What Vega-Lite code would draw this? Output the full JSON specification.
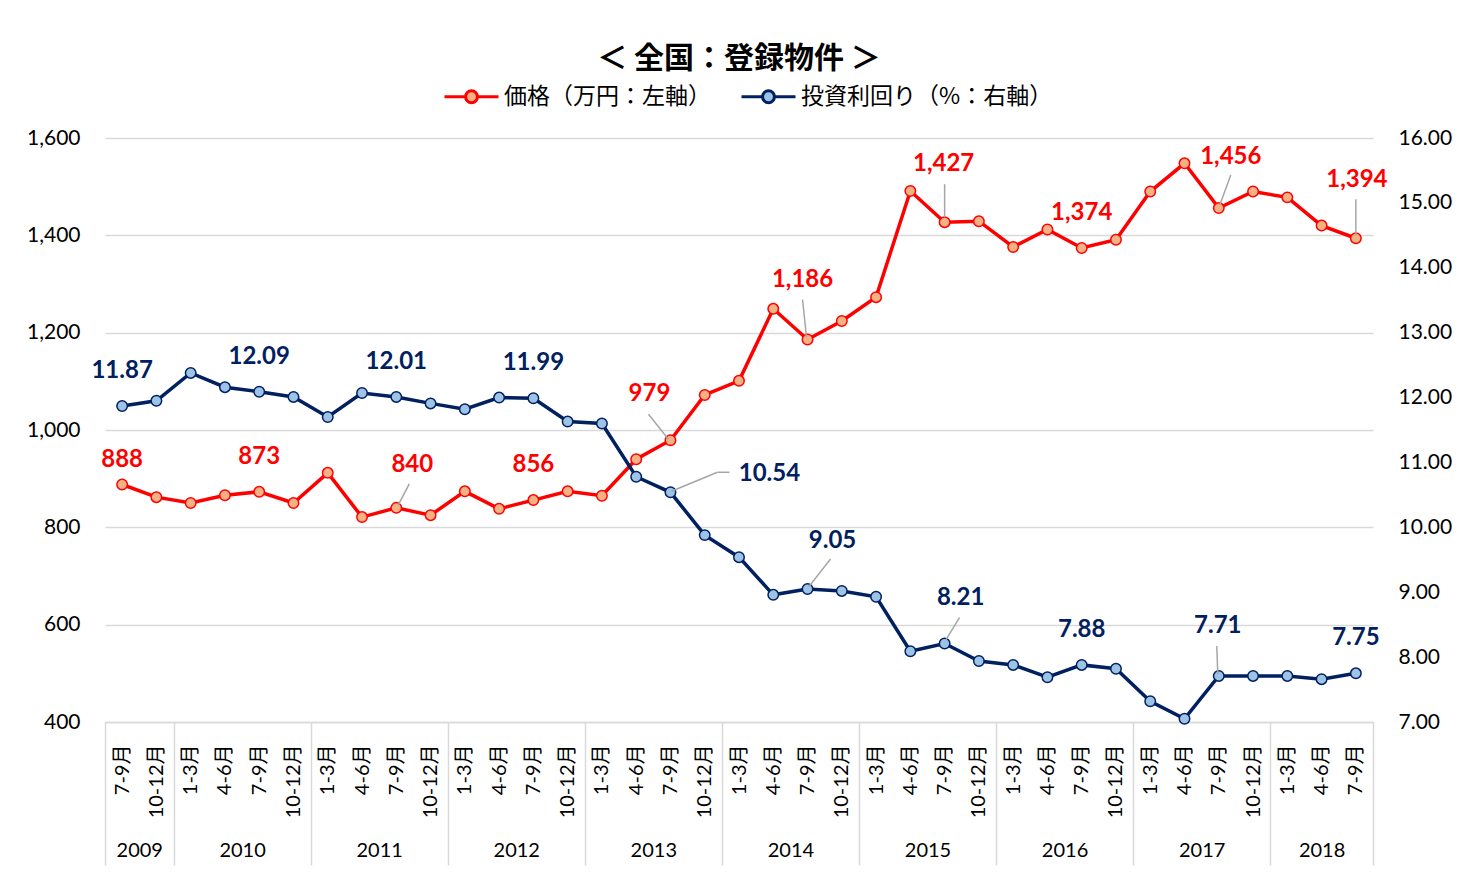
{
  "$schema": "https://vega.github.io/schema/vega-lite/v6.json",
  "width": 1268,
  "height": 584,
  "autosize": {"type": "none"},
  "padding": {"left": 105, "top": 138, "right": 106, "bottom": 152},
  "background": "#ffffff",
  "title": {
    "text": "＜ 全国：登録物件 ＞",
    "font": "Noto Sans CJK JP",
    "fontSize": 30,
    "fontWeight": "bold",
    "color": "#000000",
    "anchor": "middle",
    "offset": -6
  },
  "config": {
    "view": {"stroke": null},
    "axis": {"labelFont": "Lato, Noto Sans CJK JP", "labelColor": "#000000"}
  },
  "data": {
    "values": [
      {"q": "2009Q3", "price": 888, "yield": 11.87},
      {"q": "2009Q4", "price": 862, "yield": 11.95},
      {"q": "2010Q1", "price": 850, "yield": 12.38},
      {"q": "2010Q2", "price": 866, "yield": 12.16},
      {"q": "2010Q3", "price": 873, "yield": 12.09},
      {"q": "2010Q4", "price": 850, "yield": 12.01},
      {"q": "2011Q1", "price": 912, "yield": 11.70},
      {"q": "2011Q2", "price": 821, "yield": 12.07},
      {"q": "2011Q3", "price": 840, "yield": 12.01},
      {"q": "2011Q4", "price": 825, "yield": 11.91},
      {"q": "2012Q1", "price": 874, "yield": 11.82},
      {"q": "2012Q2", "price": 838, "yield": 12.00},
      {"q": "2012Q3", "price": 856, "yield": 11.99},
      {"q": "2012Q4", "price": 874, "yield": 11.63},
      {"q": "2013Q1", "price": 865, "yield": 11.60},
      {"q": "2013Q2", "price": 940, "yield": 10.78},
      {"q": "2013Q3", "price": 979, "yield": 10.54},
      {"q": "2013Q4", "price": 1072, "yield": 9.88},
      {"q": "2014Q1", "price": 1101, "yield": 9.54},
      {"q": "2014Q2", "price": 1249, "yield": 8.96},
      {"q": "2014Q3", "price": 1186, "yield": 9.05},
      {"q": "2014Q4", "price": 1224, "yield": 9.02},
      {"q": "2015Q1", "price": 1273, "yield": 8.93},
      {"q": "2015Q2", "price": 1491, "yield": 8.09},
      {"q": "2015Q3", "price": 1427, "yield": 8.21},
      {"q": "2015Q4", "price": 1429, "yield": 7.94},
      {"q": "2016Q1", "price": 1376, "yield": 7.88},
      {"q": "2016Q2", "price": 1412, "yield": 7.69},
      {"q": "2016Q3", "price": 1374, "yield": 7.88},
      {"q": "2016Q4", "price": 1391, "yield": 7.82},
      {"q": "2017Q1", "price": 1490, "yield": 7.32},
      {"q": "2017Q2", "price": 1548, "yield": 7.05},
      {"q": "2017Q3", "price": 1456, "yield": 7.71},
      {"q": "2017Q4", "price": 1490, "yield": 7.71},
      {"q": "2018Q1", "price": 1478, "yield": 7.71},
      {"q": "2018Q2", "price": 1420, "yield": 7.66},
      {"q": "2018Q3", "price": 1394, "yield": 7.75}
    ]
  },
  "layer": [
    {
      "encoding": {
        "x": {
          "field": "q", "type": "ordinal",
          "scale": {"type": "point", "padding": 0.5},
          "axis": {
            "title": null, "orient": "bottom",
            "labelExpr": "slice(datum.value,-1)=='1'?'1-3月':slice(datum.value,-1)=='2'?'4-6月':slice(datum.value,-1)=='3'?'7-9月':'10-12月'",
            "labelAngle": -90, "labelFontSize": 20, "labelPadding": 22,
            "ticks": false, "tickSize": 0, "grid": false,
            "domain": true, "domainColor": "#d9d9d9", "domainWidth": 1.5
          }
        },
        "y": {
          "field": "price", "type": "quantitative",
          "scale": {"domain": [400, 1600], "nice": false, "zero": false},
          "axis": {
            "title": null, "orient": "left",
            "values": [400, 600, 800, 1000, 1200, 1400, 1600],
            "format": ",.0f", "labelFontSize": 21, "labelPadding": 25,
            "domain": false, "ticks": false, "tickSize": 0,
            "grid": true, "gridColor": "#d9d9d9", "gridWidth": 1.5
          }
        }
      },
      "layer": [
        {
          "mark": {"type": "line", "strokeWidth": 3.5, "color": "#ff0000"}
        },
        {
          "mark": {"type": "circle", "size": 110, "strokeWidth": 1.5, "opacity": 1},
          "encoding": {
            "stroke": {"datum": "価格（万円：左軸）", "type": "nominal", "title": null,
              "scale": {"domain": ["価格（万円：左軸）", "投資利回り（%：右軸）"], "range": ["#ff0000", "#002060"]},
              "legend": {"orient": "none", "legendX": 338, "legendY": -70, "direction": "horizontal",
                "symbolType": "M-1,0L-0.22,0M0.22,0L1,0M0.22,0A0.22,0.22,0,1,1,-0.22,0A0.22,0.22,0,1,1,0.22,0",
                "symbolSize": 2916, "symbolStrokeWidth": 3, "symbolOpacity": 1,
                "labelFont": "Noto Sans CJK JP", "labelFontSize": 23, "labelColor": "#000000",
                "labelLimit": 0, "labelOffset": 4, "columnPadding": 24}},
            "fill": {"datum": "価格（万円：左軸）", "type": "nominal", "title": null,
              "scale": {"domain": ["価格（万円：左軸）", "投資利回り（%：右軸）"], "range": ["#f4b183", "#9dc3e6"]},
              "legend": {"orient": "none", "legendX": 338, "legendY": -70, "direction": "horizontal",
                "symbolType": "M-1,0L-0.22,0M0.22,0L1,0M0.22,0A0.22,0.22,0,1,1,-0.22,0A0.22,0.22,0,1,1,0.22,0",
                "symbolSize": 2916, "symbolStrokeWidth": 3, "symbolOpacity": 1,
                "labelFont": "Noto Sans CJK JP", "labelFontSize": 23, "labelColor": "#000000",
                "labelLimit": 0, "labelOffset": 4, "columnPadding": 24}}
          }
        },
        {
          "transform": [{"filter": {"field": "q", "oneOf": ["2010Q3", "2012Q3", "2016Q3"]}}],
          "mark": {"type": "text", "font": "Lato", "fontSize": 24, "fontWeight": "bold", "color": "#ff0000", "baseline": "middle", "dy": -35},
          "encoding": {"text": {"field": "price", "type": "quantitative", "format": ","}}
        },
        {
          "transform": [{"filter": {"field": "q", "equal": "2009Q3"}}],
          "mark": {"type": "text", "font": "Lato", "fontSize": 24, "fontWeight": "bold", "color": "#ff0000", "baseline": "middle", "dy": -25},
          "encoding": {"text": {"field": "price", "type": "quantitative", "format": ","}}
        },
        {
          "transform": [{"filter": {"field": "q", "equal": "2011Q3"}}],
          "layer": [
            {"mark": {"type": "rule", "color": "#a6a6a6", "strokeWidth": 1.5, "xOffset": 2, "yOffset": -3, "x2Offset": 13, "y2Offset": -24},
             "encoding": {"x2": {"field": "q"}, "y2": {"field": "price"}}},
            {"mark": {"type": "text", "font": "Lato", "fontSize": 24, "fontWeight": "bold", "color": "#ff0000", "baseline": "middle", "dx": 16, "dy": -43},
             "encoding": {"text": {"field": "price", "type": "quantitative", "format": ","}}}
          ]
        },
        {
          "transform": [{"filter": {"field": "q", "equal": "2013Q3"}}],
          "layer": [
            {"mark": {"type": "rule", "color": "#a6a6a6", "strokeWidth": 1.5, "xOffset": -2, "yOffset": -1, "x2Offset": -22, "y2Offset": -26},
             "encoding": {"x2": {"field": "q"}, "y2": {"field": "price"}}},
            {"mark": {"type": "text", "font": "Lato", "fontSize": 24, "fontWeight": "bold", "color": "#ff0000", "baseline": "middle", "dx": -21, "dy": -46},
             "encoding": {"text": {"field": "price", "type": "quantitative", "format": ","}}}
          ]
        },
        {
          "transform": [{"filter": {"field": "q", "equal": "2014Q3"}}],
          "layer": [
            {"mark": {"type": "rule", "color": "#a6a6a6", "strokeWidth": 1.5, "xOffset": -1, "yOffset": -2, "x2Offset": -5, "y2Offset": -40},
             "encoding": {"x2": {"field": "q"}, "y2": {"field": "price"}}},
            {"mark": {"type": "text", "font": "Lato", "fontSize": 24, "fontWeight": "bold", "color": "#ff0000", "baseline": "middle", "dx": -5, "dy": -59},
             "encoding": {"text": {"field": "price", "type": "quantitative", "format": ","}}}
          ]
        },
        {
          "transform": [{"filter": {"field": "q", "equal": "2015Q3"}}],
          "layer": [
            {"mark": {"type": "rule", "color": "#a6a6a6", "strokeWidth": 1.5, "xOffset": 0, "yOffset": -5, "x2Offset": 0, "y2Offset": -38},
             "encoding": {"x2": {"field": "q"}, "y2": {"field": "price"}}},
            {"mark": {"type": "text", "font": "Lato", "fontSize": 24, "fontWeight": "bold", "color": "#ff0000", "baseline": "middle", "dx": -1, "dy": -58},
             "encoding": {"text": {"field": "price", "type": "quantitative", "format": ","}}}
          ]
        },
        {
          "transform": [{"filter": {"field": "q", "equal": "2017Q3"}}],
          "layer": [
            {"mark": {"type": "rule", "color": "#a6a6a6", "strokeWidth": 1.5, "xOffset": 1, "yOffset": -3, "x2Offset": 12, "y2Offset": -33},
             "encoding": {"x2": {"field": "q"}, "y2": {"field": "price"}}},
            {"mark": {"type": "text", "font": "Lato", "fontSize": 24, "fontWeight": "bold", "color": "#ff0000", "baseline": "middle", "dx": 12, "dy": -51},
             "encoding": {"text": {"field": "price", "type": "quantitative", "format": ","}}}
          ]
        },
        {
          "transform": [{"filter": {"field": "q", "equal": "2018Q3"}}],
          "layer": [
            {"mark": {"type": "rule", "color": "#a6a6a6", "strokeWidth": 1.5, "xOffset": 0, "yOffset": -3, "x2Offset": 0, "y2Offset": -39},
             "encoding": {"x2": {"field": "q"}, "y2": {"field": "price"}}},
            {"mark": {"type": "text", "font": "Lato", "fontSize": 24, "fontWeight": "bold", "color": "#ff0000", "baseline": "middle", "dx": 1, "dy": -58},
             "encoding": {"text": {"field": "price", "type": "quantitative", "format": ","}}}
          ]
        }
      ]
    },
    {
      "encoding": {
        "x": {"field": "q", "type": "ordinal", "scale": {"type": "point", "padding": 0.5}, "axis": null},
        "y": {
          "field": "yield", "type": "quantitative",
          "scale": {"domain": [7, 16], "nice": false, "zero": false},
          "axis": {
            "title": null, "orient": "right",
            "values": [7, 8, 9, 10, 11, 12, 13, 14, 15, 16],
            "format": ".2f", "labelFontSize": 21, "labelPadding": 25,
            "domain": false, "ticks": false, "tickSize": 0, "grid": false
          }
        }
      },
      "layer": [
        {
          "mark": {"type": "line", "strokeWidth": 3.5, "color": "#002060"}
        },
        {
          "mark": {"type": "circle", "size": 110, "strokeWidth": 1.5, "opacity": 1},
          "encoding": {
            "stroke": {"datum": "投資利回り（%：右軸）", "type": "nominal", "title": null,
              "scale": {"domain": ["価格（万円：左軸）", "投資利回り（%：右軸）"], "range": ["#ff0000", "#002060"]},
              "legend": {"orient": "none", "legendX": 338, "legendY": -70, "direction": "horizontal",
                "symbolType": "M-1,0L-0.22,0M0.22,0L1,0M0.22,0A0.22,0.22,0,1,1,-0.22,0A0.22,0.22,0,1,1,0.22,0",
                "symbolSize": 2916, "symbolStrokeWidth": 3, "symbolOpacity": 1,
                "labelFont": "Noto Sans CJK JP", "labelFontSize": 23, "labelColor": "#000000",
                "labelLimit": 0, "labelOffset": 4, "columnPadding": 24}},
            "fill": {"datum": "投資利回り（%：右軸）", "type": "nominal", "title": null,
              "scale": {"domain": ["価格（万円：左軸）", "投資利回り（%：右軸）"], "range": ["#f4b183", "#9dc3e6"]},
              "legend": {"orient": "none", "legendX": 338, "legendY": -70, "direction": "horizontal",
                "symbolType": "M-1,0L-0.22,0M0.22,0L1,0M0.22,0A0.22,0.22,0,1,1,-0.22,0A0.22,0.22,0,1,1,0.22,0",
                "symbolSize": 2916, "symbolStrokeWidth": 3, "symbolOpacity": 1,
                "labelFont": "Noto Sans CJK JP", "labelFontSize": 23, "labelColor": "#000000",
                "labelLimit": 0, "labelOffset": 4, "columnPadding": 24}}
          }
        },
        {
          "transform": [{"filter": {"field": "q", "oneOf": ["2009Q3", "2010Q3", "2011Q3", "2012Q3", "2016Q3", "2018Q3"]}}],
          "mark": {"type": "text", "font": "Lato", "fontSize": 24, "fontWeight": "bold", "color": "#002060", "baseline": "middle", "dy": -35},
          "encoding": {"text": {"field": "yield", "type": "quantitative", "format": ".2f"}}
        },
        {
          "transform": [{"filter": {"field": "q", "equal": "2013Q3"}}],
          "layer": [
            {"mark": {"type": "rule", "color": "#a6a6a6", "strokeWidth": 1.5, "xOffset": 1, "yOffset": -1, "x2Offset": 47, "y2Offset": -20},
             "encoding": {"x2": {"field": "q"}, "y2": {"field": "yield"}}},
            {"mark": {"type": "rule", "color": "#a6a6a6", "strokeWidth": 1.5, "xOffset": 47, "yOffset": -20, "x2Offset": 59, "y2Offset": -20},
             "encoding": {"x2": {"field": "q"}, "y2": {"field": "yield"}}},
            {"mark": {"type": "text", "font": "Lato", "fontSize": 24, "fontWeight": "bold", "color": "#002060", "baseline": "middle", "dx": 99, "dy": -18},
             "encoding": {"text": {"field": "yield", "type": "quantitative", "format": ".2f"}}}
          ]
        },
        {
          "transform": [{"filter": {"field": "q", "equal": "2014Q3"}}],
          "layer": [
            {"mark": {"type": "rule", "color": "#a6a6a6", "strokeWidth": 1.5, "xOffset": 1, "yOffset": -2, "x2Offset": 23, "y2Offset": -30},
             "encoding": {"x2": {"field": "q"}, "y2": {"field": "yield"}}},
            {"mark": {"type": "text", "font": "Lato", "fontSize": 24, "fontWeight": "bold", "color": "#002060", "baseline": "middle", "dx": 25, "dy": -48},
             "encoding": {"text": {"field": "yield", "type": "quantitative", "format": ".2f"}}}
          ]
        },
        {
          "transform": [{"filter": {"field": "q", "equal": "2015Q3"}}],
          "layer": [
            {"mark": {"type": "rule", "color": "#a6a6a6", "strokeWidth": 1.5, "xOffset": 1, "yOffset": -3, "x2Offset": 15, "y2Offset": -26},
             "encoding": {"x2": {"field": "q"}, "y2": {"field": "yield"}}},
            {"mark": {"type": "text", "font": "Lato", "fontSize": 24, "fontWeight": "bold", "color": "#002060", "baseline": "middle", "dx": 16, "dy": -45},
             "encoding": {"text": {"field": "yield", "type": "quantitative", "format": ".2f"}}}
          ]
        },
        {
          "transform": [{"filter": {"field": "q", "equal": "2017Q3"}}],
          "layer": [
            {"mark": {"type": "rule", "color": "#a6a6a6", "strokeWidth": 1.5, "xOffset": -1, "yOffset": -2, "x2Offset": -2, "y2Offset": -30},
             "encoding": {"x2": {"field": "q"}, "y2": {"field": "yield"}}},
            {"mark": {"type": "text", "font": "Lato", "fontSize": 24, "fontWeight": "bold", "color": "#002060", "baseline": "middle", "dx": -1, "dy": -50},
             "encoding": {"text": {"field": "yield", "type": "quantitative", "format": ".2f"}}}
          ]
        }
      ]
    },
    {
      "transform": [{"window": [{"op": "row_number", "as": "n"}]}],
      "mark": {"type": "point", "opacity": 0},
      "encoding": {
        "x": {
          "field": "n", "type": "quantitative",
          "scale": {"domain": [0.5, 37.5], "nice": false, "zero": false},
          "axis": {
            "title": null, "orient": "bottom", "offset": 0,
            "values": [0.5, 1.5, 2.5, 4.5, 6.5, 8.5, 10.5, 12.5, 14.5, 16.5, 18.5, 20.5, 22.5, 24.5, 26.5, 28.5, 30.5, 32.5, 34.5, 36, 37.5],
            "labelExpr": "indexof([0.5,2.5,6.5,10.5,14.5,18.5,22.5,26.5,30.5,34.5,37.5], datum.value) >= 0 ? '' : '' + (2009 + floor((datum.value + 1.5) / 4))",
            "labelFont": "Lato", "labelFontSize": 20, "labelPadding": -25,
            "labelOverlap": false, "labelFlush": false, "labelAngle": 0,
            "domain": false, "grid": false,
            "ticks": true, "tickSize": 143, "tickColor": "#d9d9d9", "tickWidth": 1.5,
            "tickOpacity": {"condition": {"test": "indexof([0.5,2.5,6.5,10.5,14.5,18.5,22.5,26.5,30.5,34.5,37.5], datum.value) >= 0", "value": 1}, "value": 0}
          }
        }
      }
    }
  ],
  "resolve": {"scale": {"x": "independent", "y": "independent"}}
}
